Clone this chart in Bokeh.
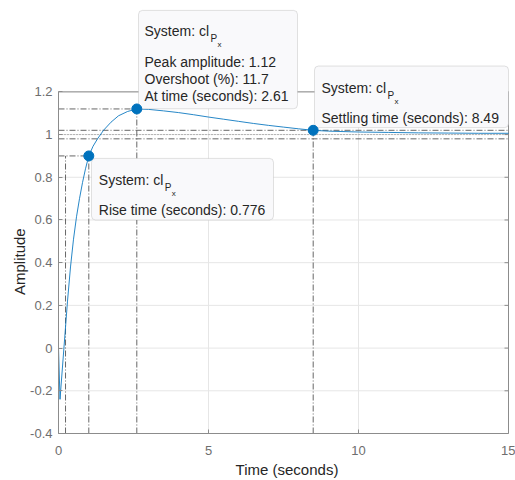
from bokeh.plotting import figure
from bokeh.models import BoxAnnotation, Label, FixedTicker, Range1d, Title
from bokeh.embed import file_html
from bokeh.resources import INLINE

# ---- data (step response of cl_Px) ----
time_s = [0, 0.05, 0.3, 0.4, 0.5, 0.6, 0.7, 0.8, 0.9, 1.01, 1.15, 1.3, 1.5, 1.75,
          2.0, 2.3, 2.61, 3.0, 3.5, 4.0, 4.5, 5.0, 5.5, 6.0, 6.5, 7.0, 7.5, 8.0,
          8.49, 9.0, 10.0, 11.0, 12.0, 13.0, 14.0, 15.0]
amplitude = [0, -0.24, 0.22, 0.38, 0.51, 0.615, 0.70, 0.775, 0.84, 0.90, 0.945, 0.98,
             1.02, 1.058, 1.088, 1.108, 1.12, 1.118, 1.111, 1.103, 1.093, 1.082,
             1.072, 1.062, 1.052, 1.043, 1.035, 1.027, 1.02, 1.016, 1.012, 1.010,
             1.008, 1.007, 1.006, 1.006]

x_ticks = [0, 5, 10, 15]
x_tick_labels = ["0", "5", "10", "15"]
y_ticks = [-0.4, -0.2, 0, 0.2, 0.4, 0.6, 0.8, 1, 1.2]
y_tick_labels = ["-0.4", "-0.2", "0", "0.2", "0.4", "0.6", "0.8", "1", "1.2"]

system_name = "cl"
rise_t10 = 0.234
rise_t90 = 1.01
rise_level = 0.9
rise_time = 0.776
peak_time = 2.61
peak_amp = 1.12
overshoot = 11.7
settle_time = 8.49
settle_amp = 1.02
steady_state = 1.0
band_low = 0.98
band_high = 1.02

x_min, x_max = 0, 15
y_min, y_max = -0.4, 1.2

# ---- layout: axes box position in the 515x480 picture ----
W, H = 515, 480
FL, FR, FT, FB = 58, 508, 92, 436
def X(ix):
    return x_min + (ix - FL) * (x_max - x_min) / (FR - FL)
def Y(iy):
    return y_max - (iy - FT) * (y_max - y_min) / (FB - FT)

AX = "#8c8c8c"
GRID = "#e6e6e6"
TXT = "#262626"
FONT = "Liberation Sans"
TICK = 4  # px

# the drawing frame reaches the top/right edges so the data tips are not clipped;
# axes, grid and box are bounded to the real axes limits
p = figure(width=W, height=H, x_range=Range1d(x_min, X(W)), y_range=Range1d(y_min, Y(0)),
           output_backend="svg", toolbar_location=None,
           min_border_left=FL, min_border_right=0, min_border_top=0, min_border_bottom=H - FB)
p.outline_line_color = None
p.background_fill_color = "white"
p.border_fill_color = "white"
p.xgrid.visible = False
p.ygrid.visible = False

p.xaxis.ticker = FixedTicker(ticks=x_ticks)
p.yaxis.ticker = FixedTicker(ticks=y_ticks)
p.xaxis.major_label_overrides = dict(zip(x_ticks, x_tick_labels))
p.yaxis.major_label_overrides = dict(zip(y_ticks, y_tick_labels))
p.xaxis.bounds = (x_min, x_max)
p.yaxis.bounds = (y_min, y_max)
for ax in (p.xaxis, p.yaxis):
    ax.axis_line_color = AX
    ax.major_tick_line_color = AX
    ax.major_tick_in = TICK
    ax.major_tick_out = 0
    ax.minor_tick_line_color = None
    ax.major_label_text_font = FONT
    ax.major_label_text_font_size = "13px"
    ax.major_label_text_color = "#6e6e6e"
    ax.axis_label_text_font = FONT
    ax.axis_label_text_font_size = "15px"
    ax.axis_label_text_font_style = "normal"
    ax.axis_label_text_color = TXT
p.xaxis.major_label_standoff = 12
p.yaxis.major_label_standoff = 6
p.xaxis.axis_label_standoff = 3
p.xaxis.axis_label = "Time (seconds)"

# y label centred on the axes box (not on the taller drawing frame)
y_label_len = 67
p.add_layout(Title(text="Amplitude", align="left", offset=(FB - (FT + FB) / 2) - y_label_len / 2,
                   text_font=FONT, text_font_size="15px", text_font_style="normal",
                   text_color=TXT, standoff=0), "left")

# grid lines at the ticks, inside the axes box
p.segment(x_ticks, [y_min] * len(x_ticks), x_ticks, [y_max] * len(x_ticks),
          line_color=GRID, line_width=1)
p.segment([x_min] * len(y_ticks), y_ticks, [x_max] * len(y_ticks), y_ticks,
          line_color=GRID, line_width=1)
# box: top and right edges, with inward ticks
p.segment([x_min, x_max], [y_max, y_min], [x_max, x_max], [y_max, y_max],
          line_color=AX, line_width=1)
p.segment([x_max] * len(y_ticks), y_ticks, [X(FR - TICK)] * len(y_ticks), y_ticks,
          line_color=AX, line_width=1)
p.segment(x_ticks, [y_max] * len(x_ticks), x_ticks, [Y(FT + TICK)] * len(x_ticks),
          line_color=AX, line_width=1)

# characteristic lines
dd = "6 2 1 2"
seg_x0 = [x_min, rise_t10, rise_t90, x_min, peak_time, x_min, x_min, settle_time]
seg_x1 = [rise_t90, rise_t10, rise_t90, peak_time, peak_time, x_max, x_max, settle_time]
seg_y0 = [rise_level, y_min, y_min, peak_amp, y_min, band_high, band_low, y_min]
seg_y1 = [rise_level, rise_level, rise_level, peak_amp, peak_amp, band_high, band_low, settle_amp]
p.segment(seg_x0, seg_y0, seg_x1, seg_y1, line_color="#404040", line_width=0.8, line_dash=dd)
p.segment([x_min], [steady_state], [x_max], [steady_state], line_color="#808080",
          line_width=1, line_dash="1 2")

p.line(time_s, amplitude, line_color="#0072BD", line_width=1, line_alpha=0.85)

tip_t = [rise_t90, peak_time, settle_time]
tip_a = [rise_level, peak_amp, settle_amp]

# data tips
def tip_box(l, t, r, b):
    p.add_layout(BoxAnnotation(left=X(l), right=X(r), top=Y(t), bottom=Y(b),
                               fill_color="#f9f9fb", fill_alpha=1, line_color="#a0a0a0",
                               line_width=1, border_radius=4))

def txt(ix, iy, s, size="14px"):
    p.add_layout(Label(x=X(ix), y=Y(iy), text=s, text_font=FONT, text_font_size=size,
                       text_color=TXT, text_baseline="alphabetic", text_align="left"))

def system_line(ix, iy):
    txt(ix, iy, "System: " + system_name)
    txt(ix + 66, iy + 7.5, "P", "10px")
    txt(ix + 73, iy + 13.5, "x", "8px")

tip_box(138, 10, 297, 109)
system_line(144, 31)
txt(144, 62, f"Peak amplitude: {peak_amp}")
txt(144, 79, f"Overshoot (%): {overshoot}")
txt(144, 96, f"At time (seconds): {peak_time}")

tip_box(314, 66, 508, 128)
system_line(321, 87.7)
txt(321, 118.3, f"Settling time (seconds): {settle_time}")

tip_box(91, 159, 273, 221)
system_line(98.3, 180.5)
txt(98.3, 211, f"Rise time (seconds): {rise_time}")

mk = p.scatter(tip_t, tip_a, size=10, fill_color="#0072BD", line_color="#0072BD")
mk.level = "overlay"

open("out.html", "w").write(file_html(p, INLINE))
